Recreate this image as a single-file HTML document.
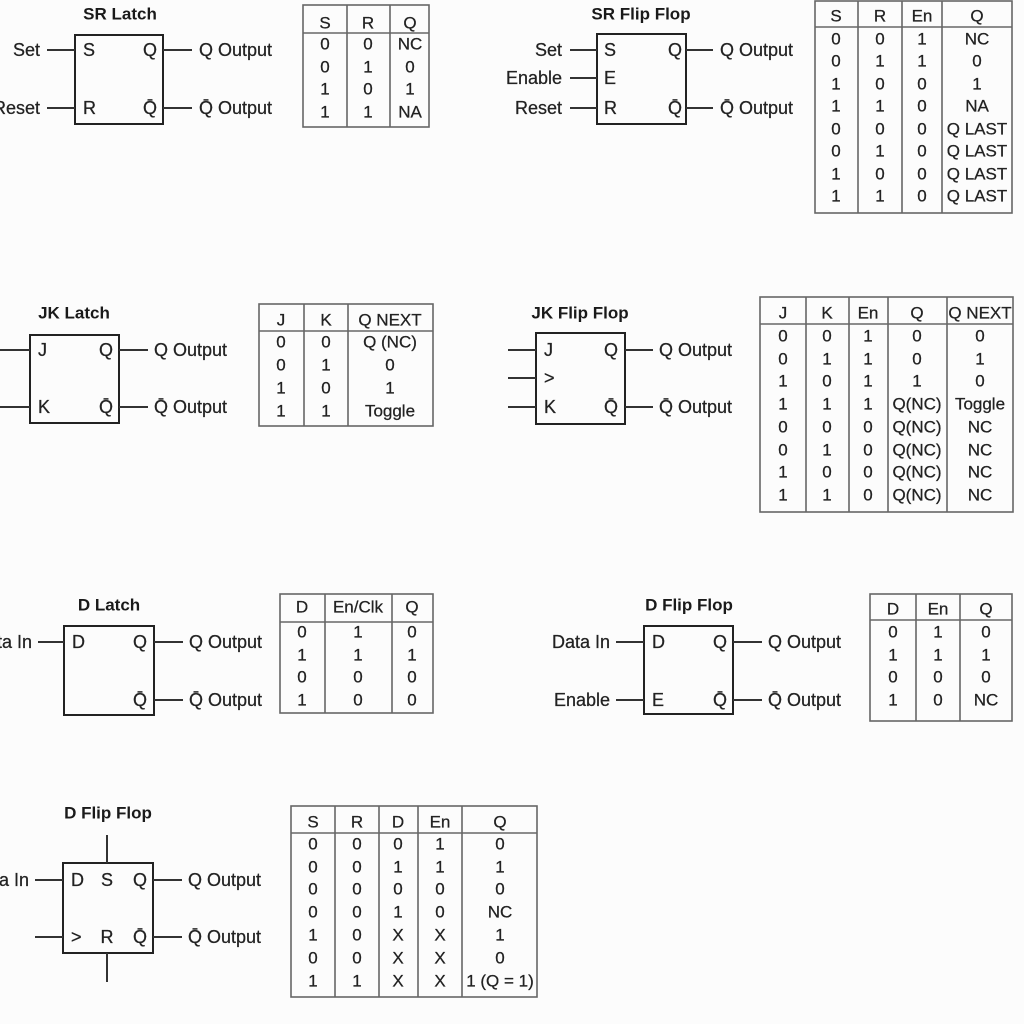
<!DOCTYPE html>
<html>
<head>
<meta charset="utf-8">
<style>
html,body{margin:0;padding:0;background:#fcfcfc;}
svg{display:block;}
text{font-family:"Liberation Sans","DejaVu Sans",sans-serif;fill:#222;dominant-baseline:central;}
.t{font-weight:bold;font-size:17px;text-anchor:middle;fill:#1a1a1a;}
.l{font-size:18px;stroke:#222;stroke-width:0.25;}
.e{text-anchor:end;}
.m{text-anchor:middle;}
.tb{font-size:17px;text-anchor:middle;stroke:#222;stroke-width:0.25;}
.box{fill:none;stroke:#222;stroke-width:2;}
.w{stroke:#333;stroke-width:2;}
.g{fill:none;stroke:#666;stroke-width:1.6;}
</style>
</head>
<body>
<svg width="1024" height="1024" viewBox="0 0 1024 1024" xmlns="http://www.w3.org/2000/svg">
<rect x="0" y="0" width="1024" height="1024" fill="#fcfcfc"/>

<!-- ===== SR Latch ===== -->
<text class="t" x="120" y="14">SR Latch</text>
<rect class="box" x="75" y="35" width="88" height="89"/>
<line class="w" x1="47" y1="50" x2="75" y2="50"/>
<line class="w" x1="47" y1="108" x2="75" y2="108"/>
<line class="w" x1="163" y1="50" x2="192" y2="50"/>
<line class="w" x1="163" y1="108" x2="192" y2="108"/>
<text class="l e" x="40" y="50">Set</text>
<text class="l e" x="40" y="108">Reset</text>
<text class="l" x="83" y="50">S</text>
<text class="l" x="83" y="108">R</text>
<text class="l m" x="150" y="50">Q</text>
<text class="l m" x="150" y="108">Q&#x304;</text>
<text class="l" x="199" y="50">Q Output</text>
<text class="l" x="199" y="108">Q&#x304; Output</text>

<rect class="g" x="303" y="5" width="126" height="122"/>
<line class="g" x1="303" y1="33" x2="429" y2="33"/>
<line class="g" x1="347" y1="5" x2="347" y2="127"/>
<line class="g" x1="390" y1="5" x2="390" y2="127"/>
<text class="tb" x="325" y="23">S</text><text class="tb" x="368" y="23">R</text><text class="tb" x="410" y="23">Q</text>
<text class="tb" x="325" y="44">0</text><text class="tb" x="368" y="44">0</text><text class="tb" x="410" y="44">NC</text>
<text class="tb" x="325" y="67">0</text><text class="tb" x="368" y="67">1</text><text class="tb" x="410" y="67">0</text>
<text class="tb" x="325" y="89">1</text><text class="tb" x="368" y="89">0</text><text class="tb" x="410" y="89">1</text>
<text class="tb" x="325" y="112">1</text><text class="tb" x="368" y="112">1</text><text class="tb" x="410" y="112">NA</text>

<!-- ===== SR Flip Flop ===== -->
<text class="t" x="641" y="14">SR Flip Flop</text>
<rect class="box" x="597" y="34" width="89" height="90"/>
<line class="w" x1="570" y1="50" x2="597" y2="50"/>
<line class="w" x1="570" y1="78" x2="597" y2="78"/>
<line class="w" x1="570" y1="108" x2="597" y2="108"/>
<line class="w" x1="686" y1="50" x2="713" y2="50"/>
<line class="w" x1="686" y1="108" x2="713" y2="108"/>
<text class="l e" x="562" y="50">Set</text>
<text class="l e" x="562" y="78">Enable</text>
<text class="l e" x="562" y="108">Reset</text>
<text class="l" x="604" y="50">S</text>
<text class="l" x="604" y="78">E</text>
<text class="l" x="604" y="108">R</text>
<text class="l m" x="675" y="50">Q</text>
<text class="l m" x="675" y="108">Q&#x304;</text>
<text class="l" x="720" y="50">Q Output</text>
<text class="l" x="720" y="108">Q&#x304; Output</text>

<rect class="g" x="815" y="1" width="197" height="212"/>
<line class="g" x1="815" y1="27" x2="1012" y2="27"/>
<line class="g" x1="858" y1="1" x2="858" y2="213"/>
<line class="g" x1="902" y1="1" x2="902" y2="213"/>
<line class="g" x1="942" y1="1" x2="942" y2="213"/>
<text class="tb" x="836" y="16">S</text><text class="tb" x="880" y="16">R</text><text class="tb" x="922" y="16">En</text><text class="tb" x="977" y="16">Q</text>
<text class="tb" x="836" y="39">0</text><text class="tb" x="880" y="39">0</text><text class="tb" x="922" y="39">1</text><text class="tb" x="977" y="39">NC</text>
<text class="tb" x="836" y="61">0</text><text class="tb" x="880" y="61">1</text><text class="tb" x="922" y="61">1</text><text class="tb" x="977" y="61">0</text>
<text class="tb" x="836" y="84">1</text><text class="tb" x="880" y="84">0</text><text class="tb" x="922" y="84">0</text><text class="tb" x="977" y="84">1</text>
<text class="tb" x="836" y="106">1</text><text class="tb" x="880" y="106">1</text><text class="tb" x="922" y="106">0</text><text class="tb" x="977" y="106">NA</text>
<text class="tb" x="836" y="129">0</text><text class="tb" x="880" y="129">0</text><text class="tb" x="922" y="129">0</text><text class="tb" x="977" y="129">Q LAST</text>
<text class="tb" x="836" y="151">0</text><text class="tb" x="880" y="151">1</text><text class="tb" x="922" y="151">0</text><text class="tb" x="977" y="151">Q LAST</text>
<text class="tb" x="836" y="174">1</text><text class="tb" x="880" y="174">0</text><text class="tb" x="922" y="174">0</text><text class="tb" x="977" y="174">Q LAST</text>
<text class="tb" x="836" y="196">1</text><text class="tb" x="880" y="196">1</text><text class="tb" x="922" y="196">0</text><text class="tb" x="977" y="196">Q LAST</text>

<!-- ===== JK Latch ===== -->
<text class="t" x="74" y="313">JK Latch</text>
<rect class="box" x="30" y="335" width="89" height="88"/>
<line class="w" x1="0" y1="350" x2="30" y2="350"/>
<line class="w" x1="0" y1="407" x2="30" y2="407"/>
<line class="w" x1="119" y1="350" x2="148" y2="350"/>
<line class="w" x1="119" y1="407" x2="148" y2="407"/>
<text class="l" x="38" y="350">J</text>
<text class="l" x="38" y="407">K</text>
<text class="l m" x="106" y="350">Q</text>
<text class="l m" x="106" y="407">Q&#x304;</text>
<text class="l" x="154" y="350">Q Output</text>
<text class="l" x="154" y="407">Q&#x304; Output</text>

<rect class="g" x="259" y="304" width="174" height="122"/>
<line class="g" x1="259" y1="331" x2="433" y2="331"/>
<line class="g" x1="304" y1="304" x2="304" y2="426"/>
<line class="g" x1="348" y1="304" x2="348" y2="426"/>
<text class="tb" x="281" y="320">J</text><text class="tb" x="326" y="320">K</text><text class="tb" x="390" y="320">Q NEXT</text>
<text class="tb" x="281" y="342">0</text><text class="tb" x="326" y="342">0</text><text class="tb" x="390" y="342">Q (NC)</text>
<text class="tb" x="281" y="365">0</text><text class="tb" x="326" y="365">1</text><text class="tb" x="390" y="365">0</text>
<text class="tb" x="281" y="388">1</text><text class="tb" x="326" y="388">0</text><text class="tb" x="390" y="388">1</text>
<text class="tb" x="281" y="411">1</text><text class="tb" x="326" y="411">1</text><text class="tb" x="390" y="411">Toggle</text>

<!-- ===== JK Flip Flop ===== -->
<text class="t" x="580" y="313">JK Flip Flop</text>
<rect class="box" x="536" y="333" width="89" height="91"/>
<line class="w" x1="508" y1="350" x2="536" y2="350"/>
<line class="w" x1="508" y1="378" x2="536" y2="378"/>
<line class="w" x1="508" y1="407" x2="536" y2="407"/>
<line class="w" x1="625" y1="350" x2="653" y2="350"/>
<line class="w" x1="625" y1="407" x2="653" y2="407"/>
<text class="l" x="544" y="350">J</text>
<text class="l" x="544" y="378">&gt;</text>
<text class="l" x="544" y="407">K</text>
<text class="l m" x="611" y="350">Q</text>
<text class="l m" x="611" y="407">Q&#x304;</text>
<text class="l" x="659" y="350">Q Output</text>
<text class="l" x="659" y="407">Q&#x304; Output</text>

<rect class="g" x="760" y="297" width="253" height="215"/>
<line class="g" x1="760" y1="324" x2="1013" y2="324"/>
<line class="g" x1="806" y1="297" x2="806" y2="512"/>
<line class="g" x1="849" y1="297" x2="849" y2="512"/>
<line class="g" x1="888" y1="297" x2="888" y2="512"/>
<line class="g" x1="947" y1="297" x2="947" y2="512"/>
<text class="tb" x="783" y="313">J</text><text class="tb" x="827" y="313">K</text><text class="tb" x="868" y="313">En</text><text class="tb" x="917" y="313">Q</text><text class="tb" x="980" y="313">Q NEXT</text>
<text class="tb" x="783" y="336">0</text><text class="tb" x="827" y="336">0</text><text class="tb" x="868" y="336">1</text><text class="tb" x="917" y="336">0</text><text class="tb" x="980" y="336">0</text>
<text class="tb" x="783" y="359">0</text><text class="tb" x="827" y="359">1</text><text class="tb" x="868" y="359">1</text><text class="tb" x="917" y="359">0</text><text class="tb" x="980" y="359">1</text>
<text class="tb" x="783" y="381">1</text><text class="tb" x="827" y="381">0</text><text class="tb" x="868" y="381">1</text><text class="tb" x="917" y="381">1</text><text class="tb" x="980" y="381">0</text>
<text class="tb" x="783" y="404">1</text><text class="tb" x="827" y="404">1</text><text class="tb" x="868" y="404">1</text><text class="tb" x="917" y="404">Q(NC)</text><text class="tb" x="980" y="404">Toggle</text>
<text class="tb" x="783" y="427">0</text><text class="tb" x="827" y="427">0</text><text class="tb" x="868" y="427">0</text><text class="tb" x="917" y="427">Q(NC)</text><text class="tb" x="980" y="427">NC</text>
<text class="tb" x="783" y="450">0</text><text class="tb" x="827" y="450">1</text><text class="tb" x="868" y="450">0</text><text class="tb" x="917" y="450">Q(NC)</text><text class="tb" x="980" y="450">NC</text>
<text class="tb" x="783" y="472">1</text><text class="tb" x="827" y="472">0</text><text class="tb" x="868" y="472">0</text><text class="tb" x="917" y="472">Q(NC)</text><text class="tb" x="980" y="472">NC</text>
<text class="tb" x="783" y="495">1</text><text class="tb" x="827" y="495">1</text><text class="tb" x="868" y="495">0</text><text class="tb" x="917" y="495">Q(NC)</text><text class="tb" x="980" y="495">NC</text>

<!-- ===== D Latch ===== -->
<text class="t" x="109" y="605">D Latch</text>
<rect class="box" x="64" y="626" width="90" height="89"/>
<line class="w" x1="38" y1="642" x2="64" y2="642"/>
<line class="w" x1="154" y1="642" x2="183" y2="642"/>
<line class="w" x1="154" y1="700" x2="183" y2="700"/>
<text class="l e" x="32" y="642">Data In</text>
<text class="l" x="72" y="642">D</text>
<text class="l m" x="140" y="642">Q</text>
<text class="l m" x="140" y="700">Q&#x304;</text>
<text class="l" x="189" y="642">Q Output</text>
<text class="l" x="189" y="700">Q&#x304; Output</text>

<rect class="g" x="280" y="594" width="153" height="119"/>
<line class="g" x1="280" y1="622" x2="433" y2="622"/>
<line class="g" x1="325" y1="594" x2="325" y2="713"/>
<line class="g" x1="392" y1="594" x2="392" y2="713"/>
<text class="tb" x="302" y="607">D</text><text class="tb" x="358" y="607">En/Clk</text><text class="tb" x="412" y="607">Q</text>
<text class="tb" x="302" y="632">0</text><text class="tb" x="358" y="632">1</text><text class="tb" x="412" y="632">0</text>
<text class="tb" x="302" y="655">1</text><text class="tb" x="358" y="655">1</text><text class="tb" x="412" y="655">1</text>
<text class="tb" x="302" y="677">0</text><text class="tb" x="358" y="677">0</text><text class="tb" x="412" y="677">0</text>
<text class="tb" x="302" y="700">1</text><text class="tb" x="358" y="700">0</text><text class="tb" x="412" y="700">0</text>

<!-- ===== D Flip Flop ===== -->
<text class="t" x="689" y="605">D Flip Flop</text>
<rect class="box" x="644" y="626" width="89" height="88"/>
<line class="w" x1="616" y1="642" x2="644" y2="642"/>
<line class="w" x1="616" y1="700" x2="644" y2="700"/>
<line class="w" x1="733" y1="642" x2="762" y2="642"/>
<line class="w" x1="733" y1="700" x2="762" y2="700"/>
<text class="l e" x="610" y="642">Data In</text>
<text class="l e" x="610" y="700">Enable</text>
<text class="l" x="652" y="642">D</text>
<text class="l" x="652" y="700">E</text>
<text class="l m" x="720" y="642">Q</text>
<text class="l m" x="720" y="700">Q&#x304;</text>
<text class="l" x="768" y="642">Q Output</text>
<text class="l" x="768" y="700">Q&#x304; Output</text>

<rect class="g" x="870" y="594" width="142" height="127"/>
<line class="g" x1="870" y1="620" x2="1012" y2="620"/>
<line class="g" x1="916" y1="594" x2="916" y2="721"/>
<line class="g" x1="960" y1="594" x2="960" y2="721"/>
<text class="tb" x="893" y="609">D</text><text class="tb" x="938" y="609">En</text><text class="tb" x="986" y="609">Q</text>
<text class="tb" x="893" y="632">0</text><text class="tb" x="938" y="632">1</text><text class="tb" x="986" y="632">0</text>
<text class="tb" x="893" y="655">1</text><text class="tb" x="938" y="655">1</text><text class="tb" x="986" y="655">1</text>
<text class="tb" x="893" y="677">0</text><text class="tb" x="938" y="677">0</text><text class="tb" x="986" y="677">0</text>
<text class="tb" x="893" y="700">1</text><text class="tb" x="938" y="700">0</text><text class="tb" x="986" y="700">NC</text>

<!-- ===== D Flip Flop (with S/R) ===== -->
<text class="t" x="108" y="813">D Flip Flop</text>
<rect class="box" x="63" y="863" width="90" height="90"/>
<line class="w" x1="107" y1="835" x2="107" y2="863"/>
<line class="w" x1="107" y1="953" x2="107" y2="982"/>
<line class="w" x1="35" y1="880" x2="63" y2="880"/>
<line class="w" x1="35" y1="937" x2="63" y2="937"/>
<line class="w" x1="153" y1="880" x2="182" y2="880"/>
<line class="w" x1="153" y1="937" x2="182" y2="937"/>
<text class="l e" x="29" y="880">Data In</text>
<text class="l" x="71" y="880">D</text>
<text class="l m" x="107" y="880">S</text>
<text class="l m" x="140" y="880">Q</text>
<text class="l" x="71" y="937">&gt;</text>
<text class="l m" x="107" y="937">R</text>
<text class="l m" x="140" y="937">Q&#x304;</text>
<text class="l" x="188" y="880">Q Output</text>
<text class="l" x="188" y="937">Q&#x304; Output</text>

<rect class="g" x="291" y="806" width="246" height="191"/>
<line class="g" x1="291" y1="833" x2="537" y2="833"/>
<line class="g" x1="335" y1="806" x2="335" y2="997"/>
<line class="g" x1="379" y1="806" x2="379" y2="997"/>
<line class="g" x1="418" y1="806" x2="418" y2="997"/>
<line class="g" x1="462" y1="806" x2="462" y2="997"/>
<text class="tb" x="313" y="822">S</text><text class="tb" x="357" y="822">R</text><text class="tb" x="398" y="822">D</text><text class="tb" x="440" y="822">En</text><text class="tb" x="500" y="822">Q</text>
<text class="tb" x="313" y="844">0</text><text class="tb" x="357" y="844">0</text><text class="tb" x="398" y="844">0</text><text class="tb" x="440" y="844">1</text><text class="tb" x="500" y="844">0</text>
<text class="tb" x="313" y="867">0</text><text class="tb" x="357" y="867">0</text><text class="tb" x="398" y="867">1</text><text class="tb" x="440" y="867">1</text><text class="tb" x="500" y="867">1</text>
<text class="tb" x="313" y="889">0</text><text class="tb" x="357" y="889">0</text><text class="tb" x="398" y="889">0</text><text class="tb" x="440" y="889">0</text><text class="tb" x="500" y="889">0</text>
<text class="tb" x="313" y="912">0</text><text class="tb" x="357" y="912">0</text><text class="tb" x="398" y="912">1</text><text class="tb" x="440" y="912">0</text><text class="tb" x="500" y="912">NC</text>
<text class="tb" x="313" y="935">1</text><text class="tb" x="357" y="935">0</text><text class="tb" x="398" y="935">X</text><text class="tb" x="440" y="935">X</text><text class="tb" x="500" y="935">1</text>
<text class="tb" x="313" y="958">0</text><text class="tb" x="357" y="958">0</text><text class="tb" x="398" y="958">X</text><text class="tb" x="440" y="958">X</text><text class="tb" x="500" y="958">0</text>
<text class="tb" x="313" y="981">1</text><text class="tb" x="357" y="981">1</text><text class="tb" x="398" y="981">X</text><text class="tb" x="440" y="981">X</text><text class="tb" x="500" y="981">1 (Q = 1)</text>
</svg>
</body>
</html>
